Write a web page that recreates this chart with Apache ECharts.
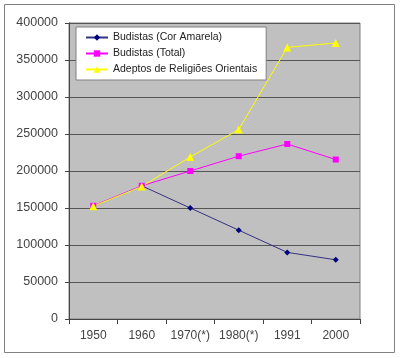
<!DOCTYPE html>
<html><head><meta charset="utf-8">
<script src="https://cdn.jsdelivr.net/npm/echarts@6/dist/echarts.min.js"></script>
<style>html,body{margin:0;padding:0;background:#fff}#c{width:400px;height:358px}</style>
</head><body><div id="c"></div>
<script>
var categories = ['1950','1960','1970(*)','1980(*)','1991','2000'];
var budistasAmarela = [null,180000,150000,120000,90000,80000];
var budistasTotal = [153000,180000,200000,220000,236500,215500];
var adeptosOrientais = [152500,179000,219000,256000,367000,373000];
var seriesNames = ['Budistas (Cor Amarela)','Budistas (Total)','Adeptos de Religiões Orientais'];

var chart = echarts.init(document.getElementById('c'), null, {renderer:'canvas'});
var font = 'Liberation Sans, Arial, sans-serif';
chart.setOption({
  animation:false,
  graphic:[{type:'rect',shape:{x:4.5,y:4.5,width:390,height:348},style:{fill:'none',stroke:'#808080',lineWidth:1},z:-1}],
  grid:{left:69,right:40,top:23,bottom:39,show:true,backgroundColor:'#c0c0c0',borderColor:'#808080',borderWidth:1},
  legend:{
    orient:'vertical',left:76,top:27,
    backgroundColor:'#fff',borderColor:'#808080',borderWidth:1,
    padding:[5,9,5,9],itemGap:5,itemWidth:22,itemHeight:8,
    textStyle:{fontFamily:font,fontSize:10.5,color:'#222'},
    data:seriesNames
  },
  xAxis:{
    type:'category',data:categories,boundaryGap:true,
    axisLine:{lineStyle:{color:'#444'}},
    axisTick:{show:true,length:5,lineStyle:{color:'#444'}},
    axisLabel:{fontFamily:font,fontSize:12,color:'#444',margin:11,interval:0,hideOverlap:false}
  },
  yAxis:{
    type:'value',min:0,max:400000,interval:50000,
    axisLine:{show:true,lineStyle:{color:'#444'}},
    axisTick:{show:true,length:4,lineStyle:{color:'#444'}},
    splitLine:{lineStyle:{color:'#555',width:1}},
    axisLabel:{fontFamily:font,fontSize:12.5,color:'#444',margin:11,formatter:function(v){return String(v);}}
  },
  series:[
    {name:seriesNames[0],type:'line',data:budistasAmarela,symbol:'diamond',symbolSize:6,
     itemStyle:{color:'#000080'},lineStyle:{color:'#333380',width:1}},
    {name:seriesNames[1],type:'line',data:budistasTotal,symbol:'rect',symbolSize:6,
     itemStyle:{color:'#ff00ff'},lineStyle:{color:'#ff00ff',width:1}},
    {name:seriesNames[2],type:'line',data:adeptosOrientais,symbol:'triangle',symbolSize:8,
     itemStyle:{color:'#ffff00'},lineStyle:{color:'#ffff00',width:1}}
  ]
});
</script></body></html>
